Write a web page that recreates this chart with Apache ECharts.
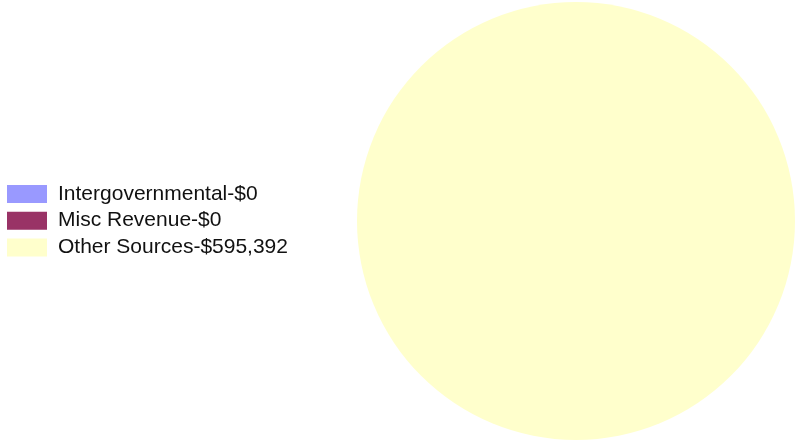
<!DOCTYPE html>
<html>
<head>
<meta charset="utf-8">
<script src="https://cdn.jsdelivr.net/npm/echarts@6/dist/echarts.min.js"></script>
<style>html,body{margin:0;padding:0;background:#fff;}#c{width:796px;height:441px;}</style>
</head>
<body>
<div id="c"></div>
<script>
const categories = ['Intergovernmental', 'Misc Revenue', 'Other Sources'];
const values = [0, 0, 595392];
const colors = ['#9999FF', '#993366', '#FFFFCC'];

const fmt = v => '$' + v.toLocaleString('en-US');
const labels = {};
categories.forEach((c, i) => { labels[c] = c + '-' + fmt(values[i]); });

const chart = echarts.init(document.getElementById('c'));
chart.setOption({
  animation: false,
  color: colors,
  legend: {
    orient: 'vertical',
    left: 7,
    top: 183.5,
    padding: 0,
    itemWidth: 40,
    itemHeight: 18,
    itemGap: 5.7,
    icon: 'rect',
    formatter: name => labels[name],
    textStyle: { fontFamily: 'Liberation Sans, Arial, sans-serif', fontSize: 21, color: '#111', padding: [0, 0, 0, 6] },
    data: categories
  },
  series: [{
    type: 'pie',
    center: [576, 221],
    radius: 219,
    startAngle: 90,
    label: { show: false },
    labelLine: { show: false },
    emphasis: { disabled: true },
    itemStyle: { borderWidth: 0 },
    data: categories.map((c, i) => ({ name: c, value: values[i] }))
  }]
});
</script>
</body>
</html>
